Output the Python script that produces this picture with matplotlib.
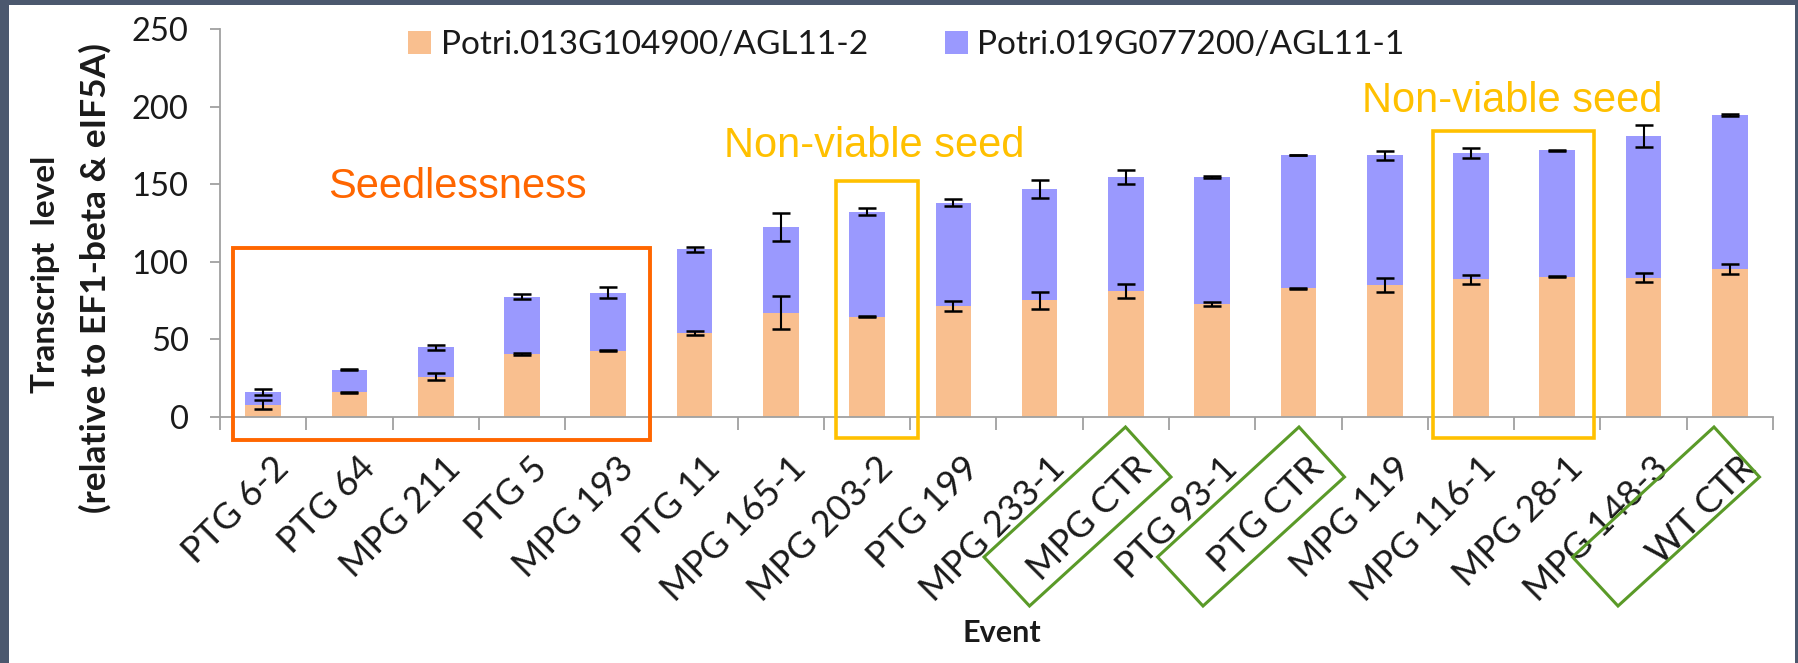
import matplotlib
matplotlib.use("Agg")
import matplotlib.pyplot as plt
from matplotlib.patches import Rectangle, Polygon, Patch
from matplotlib.transforms import ScaledTranslation
import numpy as np

# ---- data -------------------------------------------------------------
events = ["PTG 6-2", "PTG 64", "MPG 211", "PTG 5", "MPG 193", "PTG 11",
          "MPG 165-1", "MPG 203-2", "PTG 199", "MPG 233-1", "MPG CTR",
          "PTG 93-1", "PTG CTR", "MPG 119", "MPG 116-1", "MPG 28-1",
          "MPG 148-3", "WT CTR"]

agl11_2 = [8.0, 15.9, 26.0, 40.4, 42.7, 54.3, 67.2, 64.6, 71.5, 75.2, 81.2,
           72.8, 82.9, 85.3, 88.6, 90.4, 89.8, 95.4]
agl11_2_err = [2.7, 0.5, 2.2, 0.6, 0.3, 1.4, 10.7, 0.3, 3.4, 5.6, 4.8,
               1.0, 0.5, 4.5, 2.9, 0.3, 3.0, 3.5]

agl11_1 = [8.0, 14.6, 18.8, 37.1, 37.3, 53.8, 55.2, 67.7, 66.6, 71.6, 73.4,
           82.0, 85.9, 83.4, 81.5, 81.6, 91.2, 99.2]
agl11_1_err = [2.0, 0.4, 1.6, 1.6, 3.5, 1.5, 9.3, 2.1, 2.1, 5.6, 4.3,
               0.5, 0.3, 2.9, 3.0, 0.3, 7.2, 0.6]

series_labels = ["Potri.013G104900/AGL11-2", "Potri.019G077200/AGL11-1"]
yticks = [0, 50, 100, 150, 200, 250]

# ---- style ------------------------------------------------------------
C_ORANGE = "#F9BF8F"
C_BLUE = "#9A99FE"
C_FRAME = "#4B586E"
C_AXIS = "#A0A0A0"
C_TEXT = "#1A1A1A"
C_SEED = "#FF6600"
C_GOLD = "#FFC000"
C_GREEN = "#5A9A28"

W, H = 1799, 663
fig = plt.figure(figsize=(W / 100, H / 100), dpi=100, facecolor=C_FRAME)


def fx(x):
    return x / W


def fy(y):
    return 1 - y / H


# white slide panel inside the dark frame
fig.add_artist(Rectangle((fx(9), 0), (1795 - 9) / W, fy(5), transform=fig.transFigure,
                         facecolor="white", edgecolor="none", zorder=-5))

ax = fig.add_axes([fx(220), fy(417), (1773 - 220) / W, (417 - 29) / H])
ax.set_facecolor("none")

x = np.arange(len(events))
bw = 0.414
bottom_top = np.array(agl11_2)
stack_top = bottom_top + np.array(agl11_1)

ax.bar(x, agl11_2, width=bw, color=C_ORANGE, zorder=2)
ax.bar(x, agl11_1, width=bw, bottom=agl11_2, color=C_BLUE, zorder=2)

ekw = dict(fmt="none", ecolor="black", elinewidth=1.5, capsize=6.5, capthick=1.8, zorder=3)
ax.errorbar(x, bottom_top, yerr=agl11_2_err, **ekw)
ax.errorbar(x, stack_top, yerr=agl11_1_err, **ekw)

ax.set_xlim(-0.5, len(events) - 0.5)
ax.set_ylim(0, 250)

for s in ["top", "right"]:
    ax.spines[s].set_visible(False)
for s in ["left", "bottom"]:
    ax.spines[s].set_color(C_AXIS)
    ax.spines[s].set_linewidth(1.3)

FONT = ["Lato", "DejaVu Sans"]

ax.set_yticks(yticks)
ax.set_yticklabels([str(v) for v in yticks], fontsize=23.5, family=FONT, color=C_TEXT)
ax.tick_params(axis="y", direction="out", length=7.5, width=1.3, color=C_AXIS, pad=15)

ax.set_xticks(x)
ax.set_xticks(np.arange(-0.5, len(events)), minor=True)
ax.tick_params(axis="x", which="major", length=0, pad=33)
ax.tick_params(axis="x", which="minor", direction="out", length=9.5, width=1.3, color=C_AXIS)
ax.set_xticklabels(events, rotation=45, ha="right", va="center", rotation_mode="anchor",
                   fontsize=26, family=FONT, color=C_TEXT)
shift = ScaledTranslation(20 / 100, 0, fig.dpi_scale_trans)
for lab in ax.get_xticklabels():
    lab.set_transform(lab.get_transform() + shift)

# axis titles
fig.text(fx(46), fy(274), "Transcript  level", rotation=90, ha="center", va="center",
         fontsize=24, fontweight="bold", family=FONT, color=C_TEXT)
fig.text(fx(95), fy(278), "(relative to EF1-beta & eIF5A)", rotation=90, ha="center",
         va="center", fontsize=25.5, fontweight="bold", family=FONT, color=C_TEXT)
fig.text(fx(1002), fy(633), "Event", ha="center", va="center", fontsize=22,
         fontweight="bold", family=FONT, color=C_TEXT)

# legend
handles = [Patch(facecolor=C_ORANGE, edgecolor="none", label=series_labels[0]),
           Patch(facecolor=C_BLUE, edgecolor="none", label=series_labels[1])]
leg = fig.legend(handles=handles, loc="center left", bbox_to_anchor=(fx(408), fy(45)),
                 ncol=2, frameon=False, borderpad=0, borderaxespad=0,
                 handlelength=0.7, handleheight=0.7, handletextpad=0.28,
                 columnspacing=2.3, prop={"family": FONT, "size": 24})
for t in leg.get_texts():
    t.set_color(C_TEXT)

# group annotations
ANNOT = ["Liberation Sans", "DejaVu Sans"]
fig.text(fx(457), fy(198), "Seedlessness", ha="center", va="baseline", fontsize=30,
         family=ANNOT, color=C_SEED)
fig.text(fx(874), fy(157), "Non-viable seed", ha="center", va="baseline", fontsize=30,
         family=ANNOT, color=C_GOLD)
fig.text(fx(1512), fy(112), "Non-viable seed", ha="center", va="baseline", fontsize=30,
         family=ANNOT, color=C_GOLD)


def frame_box(x0, y0, x1, y1, color, lw):
    fig.add_artist(Rectangle((fx(x0), fy(y1)), (x1 - x0) / W, (y1 - y0) / H,
                             transform=fig.transFigure, fill=False, edgecolor=color,
                             linewidth=lw, zorder=4))


frame_box(233, 248, 650, 440, C_SEED, 2.8)
frame_box(836, 181, 918, 438, C_GOLD, 2.6)
frame_box(1433, 131, 1594, 438, C_GOLD, 2.6)


def tilted_box(top_x, top_y):
    offs = [(0, 0), (45.5, 50), (-96, 179), (-141.5, 130)]
    verts = [(fx(top_x + dx), fy(top_y + dy)) for dx, dy in offs]
    fig.add_artist(Polygon(verts, closed=True, transform=fig.transFigure, fill=False,
                           edgecolor=C_GREEN, linewidth=2.2, zorder=4))


tilted_box(1125.5, 427)
tilted_box(1299, 427)
tilted_box(1714, 427)

fig.savefig("out.png", dpi=100, facecolor=C_FRAME)
